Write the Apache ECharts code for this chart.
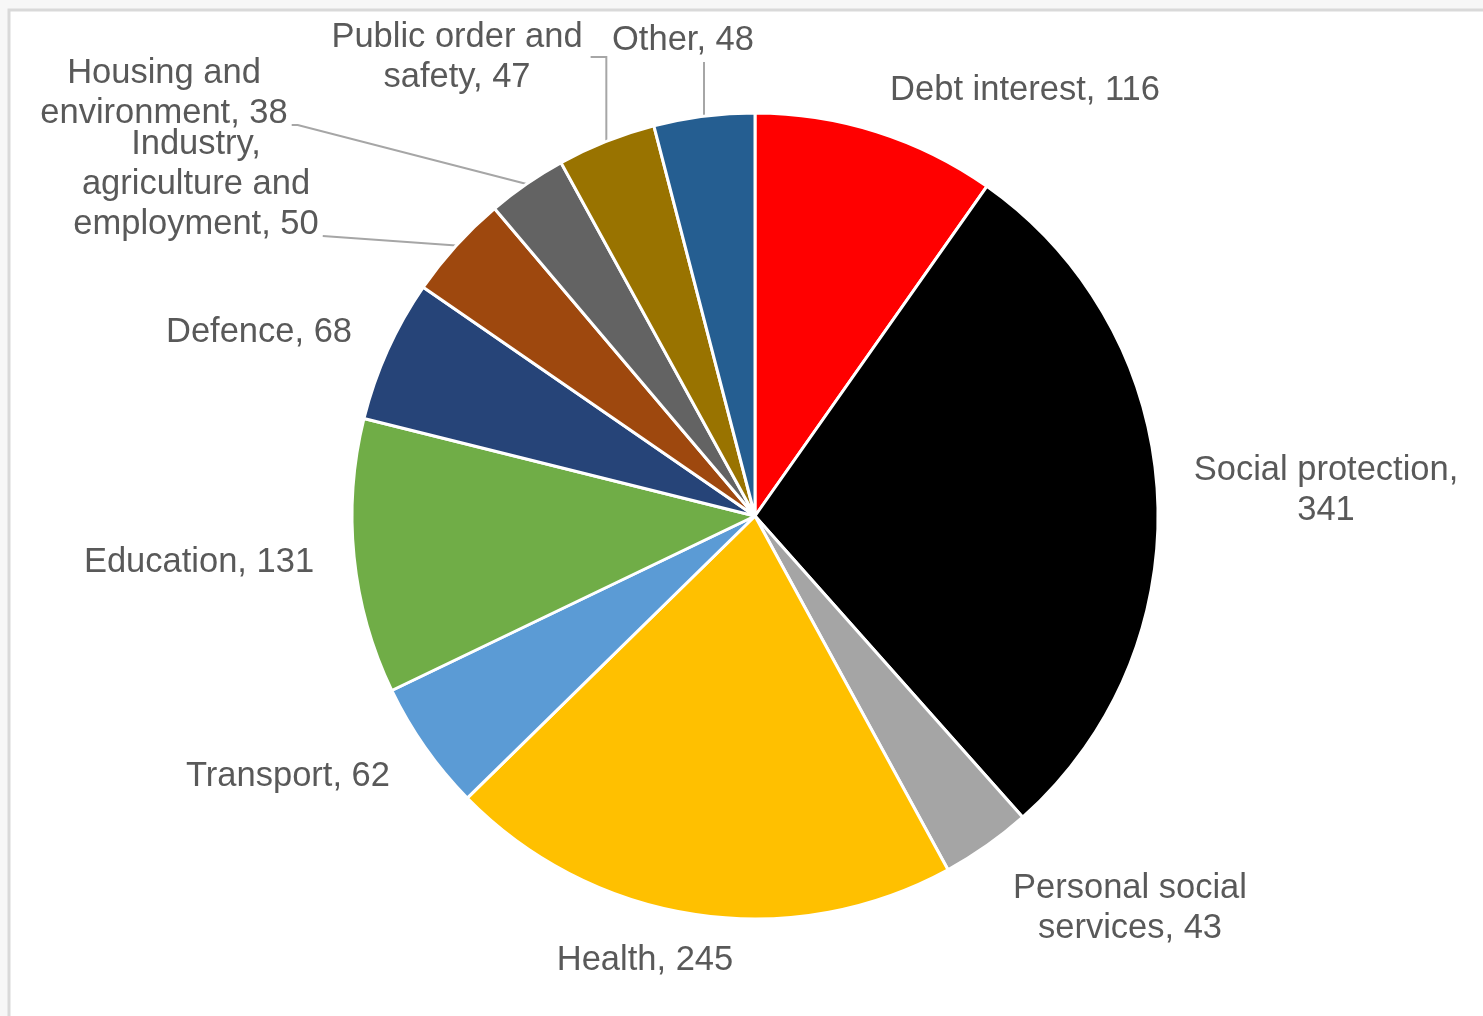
<!DOCTYPE html>
<html>
<head>
<meta charset="utf-8">
<title>Public spending by function</title>
<script src="https://cdn.jsdelivr.net/npm/echarts@6/dist/echarts.min.js"></script>
<style>
  html, body { margin: 0; padding: 0; background: #f7f7f7; }
  #chart { width: 1483px; height: 1016px; }
</style>
</head>
<body>
<div id="chart"></div>
<script>
// Spending by function (£ billion), clockwise from 12 o'clock
const categories = [
  'Debt interest',
  'Social protection',
  'Personal social services',
  'Health',
  'Transport',
  'Education',
  'Defence',
  'Industry, agriculture and employment',
  'Housing and environment',
  'Public order and safety',
  'Other'
];
const values = [116, 341, 43, 245, 62, 131, 68, 50, 38, 47, 48];
const colors = [
  '#ff0000', '#000000', '#a5a5a5', '#ffc000', '#5b9bd5', '#70ad47',
  '#264478', '#9e480e', '#636363', '#997300', '#255e91'
];

// Wrapped label text for each slice
const labelTexts = [
  'Debt interest, 116',
  'Social protection,\n341',
  'Personal social\nservices, 43',
  'Health, 245',
  'Transport, 62',
  'Education, 131',
  'Defence, 68',
  'Industry,\nagriculture and\nemployment, 50',
  'Housing and\nenvironment, 38',
  'Public order and\nsafety, 47',
  'Other, 48'
];

// Label centres (page pixels) and leader-line style for each slice
//   none: no line; up: straight up to the label; elbow: up then across;
//   side: to the label's lower right corner
const labelPlacement = [
  { x: 1025, y: 90,  line: 'none' },
  { x: 1326, y: 490, line: 'none' },
  { x: 1130, y: 908, line: 'none' },
  { x: 645,  y: 960, line: 'none' },
  { x: 288,  y: 776, line: 'none' },
  { x: 199,  y: 562, line: 'none' },
  { x: 259,  y: 332, line: 'none' },
  { x: 196,  y: 184, line: 'side', dy: 52 },
  { x: 164,  y: 93,  line: 'side', dy: 32, tail: 6 },
  { x: 457,  y: 57,  line: 'elbow' },
  { x: 683,  y: 40,  line: 'up' }
];

const CENTER = [755, 516];
const RADIUS = 403;
const total = values.reduce((a, b) => a + b, 0);

// Point on the pie's rim at the middle of slice i
function rimPoint(i) {
  let before = 0;
  for (let k = 0; k < i; k++) before += values[k];
  const a = (before + values[i] / 2) / total * Math.PI * 2;
  return [CENTER[0] + RADIUS * Math.sin(a), CENTER[1] - RADIUS * Math.cos(a)];
}

const chart = echarts.init(document.getElementById('chart'), null, { renderer: 'canvas' });

const data = categories.map((name, i) => ({
  name: name,
  value: values[i],
  itemStyle: { color: colors[i] },
  label: { formatter: labelTexts[i] },
  labelLine: { show: labelPlacement[i].line !== 'none' }
}));

chart.setOption({
  backgroundColor: '#f7f7f7',
  animation: false,
  graphic: [{
    type: 'rect',
    shape: { x: 9, y: 10, width: 1490, height: 1020 },
    style: { fill: '#ffffff', stroke: '#d9d9d9', lineWidth: 3 },
    z: -10
  }],
  series: [{
    type: 'pie',
    center: CENTER,
    radius: [0, RADIUS],
    startAngle: 90,
    clockwise: true,
    avoidLabelOverlap: false,
    itemStyle: { borderColor: '#ffffff', borderWidth: 3 },
    label: {
      show: true,
      position: 'outside',
      color: '#595959',
      fontFamily: '"Liberation Sans", Arial, sans-serif',
      fontSize: 34.5,
      lineHeight: 40,
      align: 'center'
    },
    labelLine: {
      show: true,
      length: 10,
      length2: 10,
      lineStyle: { color: '#a6a6a6', width: 2 }
    },
    labelLayout: function (params) {
      const i = params.dataIndex;
      const p = labelPlacement[i];
      const out = { x: p.x, y: p.y, align: 'center', verticalAlign: 'middle' };
      if (p.line !== 'none') {
        const w = params.labelRect.width;
        const h = params.labelRect.height;
        const rim = rimPoint(i);
        const right = p.x + w / 2;
        if (p.line === 'up') {
          out.labelLinePoints = [rim, [rim[0], p.y + h / 2 + 2], [rim[0], p.y + h / 2 + 2]];
        } else if (p.line === 'elbow') {
          out.labelLinePoints = [rim, [rim[0], p.y], [right + 8, p.y]];
        } else {
          const ty = p.y + p.dy;
          const tail = p.tail || 0;
          out.labelLinePoints = [rim, [right + 4 + tail, ty], [right + 4, ty]];
        }
      }
      return out;
    },
    emphasis: { disabled: true },
    data: data
  }]
});
</script>
</body>
</html>
